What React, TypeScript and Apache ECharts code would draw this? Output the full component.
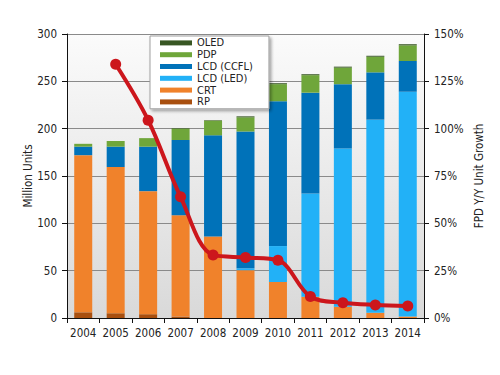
import React, { useEffect, useRef } from "react";
import * as echarts from "echarts";

const years = ["2004", "2005", "2006", "2007", "2008", "2009", "2010", "2011", "2012", "2013", "2014"];
const rp = [6, 5, 4, 1.5, 0, 0, 0, 0, 0, 0, 0];
const crt = [166, 154.5, 130, 107, 86, 50.5, 38, 22.5, 12, 5.5, 1.5];
const lcdLed = [0, 0, 0, 0, 0, 2, 38, 109, 167, 204, 237.5];
const lcdCcfl = [9, 21.5, 47, 79.5, 107, 144.5, 153, 106.5, 68, 50, 32.5];
const pdp = [3, 6, 9, 12, 15.5, 15, 18, 18.5, 17.5, 16.5, 16.5];
const oled = [0, 0, 0, 0.5, 0.5, 1, 1, 1, 1, 1, 1.2];
const growth: (number | string)[] = ["-", 134, 104.5, 64, 33.3, 32, 30.5, 11.3, 8.1, 6.9, 6.3];

const leftTicks = { min: 0, max: 300, interval: 50 };
const rightTicks = { min: 0, max: 150, interval: 25 };

const FONT = "'DejaVu Sans Condensed', 'Liberation Sans', sans-serif";

export default function App() {
  const ref = useRef<HTMLDivElement>(null);
  useEffect(() => {
    if (!ref.current) return;
    const chart = echarts.init(ref.current, null, { renderer: "svg" });
    const barSeries = (name: string, data: number[], color: string) => ({
      name,
      type: "bar",
      stack: "units",
      data,
      barWidth: 18,
      itemStyle: { color },
      emphasis: { disabled: true },
    });
    chart.setOption({
      animation: false,
      textStyle: { fontFamily: FONT },
      grid: {
        left: 67,
        right: 76,
        top: 34,
        bottom: 57,
        show: true,
        borderWidth: 0,
        backgroundColor: new echarts.graphic.LinearGradient(0, 0, 0, 1, [
          { offset: 0, color: "#fbfbfb" },
          { offset: 1, color: "#d9d9d9" },
        ]),
      },
      legend: {
        orient: "vertical",
        left: 150,
        top: 36,
        data: ["OLED", "PDP", "LCD (CCFL)", "LCD (LED)", "CRT", "RP"],
        itemWidth: 32,
        itemHeight: 5,
        itemGap: 0,
        icon: "rect",
        backgroundColor: "#ffffff",
        borderColor: "#a0a0a0",
        borderWidth: 1,
        padding: [1, 16, 1, 10],
        shadowColor: "rgba(0,0,0,0.35)",
        shadowBlur: 3,
        shadowOffsetX: 2,
        shadowOffsetY: 2,
        textStyle: { fontFamily: FONT, fontSize: 11, color: "#222", lineHeight: 11.8, padding: [0, 0, 0, 0] },
      },
      xAxis: {
        type: "category",
        data: years,
        axisLine: { lineStyle: { color: "#111", width: 1 } },
        axisTick: { show: true, length: 5, interval: 0, alignWithLabel: false, lineStyle: { color: "#111" } },
        axisLabel: { color: "#222", fontSize: 11.5, margin: 9, interval: 0, fontFamily: FONT },
      },
      yAxis: [
        {
          type: "value",
          ...leftTicks,
          name: "Million Units",
          nameLocation: "middle",
          nameRotate: 90,
          nameGap: 33,
          nameMoveOverlap: false,
          nameTextStyle: { color: "#222", fontSize: 11.5, fontFamily: FONT },
          axisLine: { show: true, lineStyle: { color: "#111" } },
          axisTick: { show: true, length: 5, lineStyle: { color: "#111" } },
          axisLabel: { color: "#222", fontSize: 11.5, margin: 10, fontFamily: FONT },
          splitLine: { show: true, lineStyle: { color: "#8a8a8a", width: 1 } },
        },
        {
          type: "value",
          ...rightTicks,
          position: "right",
          name: "FPD Y/Y Unit Growth",
          nameLocation: "middle",
          nameRotate: 90,
          nameGap: 49,
          nameMoveOverlap: false,
          nameTextStyle: { color: "#222", fontSize: 11.5, fontFamily: FONT },
          axisLine: { show: true, lineStyle: { color: "#111" } },
          axisTick: { show: true, length: 5, lineStyle: { color: "#111" } },
          axisLabel: { color: "#222", fontSize: 11.5, margin: 10, formatter: "{value}%", fontFamily: FONT },
          splitLine: { show: false },
        },
      ],
      series: [
        barSeries("RP", rp, "#a84f0f"),
        barSeries("CRT", crt, "#f0822b"),
        barSeries("LCD (LED)", lcdLed, "#22b1f7"),
        barSeries("LCD (CCFL)", lcdCcfl, "#0072b9"),
        barSeries("PDP", pdp, "#6fa63a"),
        barSeries("OLED", oled, "#385623"),
        {
          name: "Growth",
          type: "line",
          yAxisIndex: 1,
          data: growth,
          smooth: 0.35,
          symbol: "circle",
          symbolSize: 11,
          z: 10,
          lineStyle: { color: "#cc161c", width: 4 },
          itemStyle: { color: "#cc161c" },
          emphasis: { disabled: true },
        },
      ],
    });
    return () => chart.dispose();
  }, []);
  return <div ref={ref} style={{ width: 500, height: 375, margin: -8 }} />;
}
